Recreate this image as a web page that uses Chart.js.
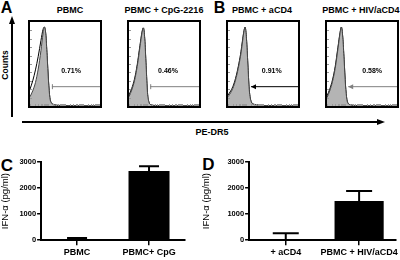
<!DOCTYPE html>
<html>
<head>
<meta charset="utf-8">
<script src="https://cdn.jsdelivr.net/npm/chart.js@4.4.1/dist/chart.umd.min.js"></script>
<style>
  body { margin: 0; background: #fff; }
  #figura { position: relative; width: 400px; height: 260px; overflow: hidden; font-family: "Liberation Sans", Arial, sans-serif; color: #000; }
  .caja { position: absolute; border: 2px solid #000; box-sizing: border-box; }
  .caja canvas { display: block; }
  .texto { position: absolute; transform: translate(-50%, -50%); white-space: nowrap; line-height: 1; font-weight: bold; }
  .grafico { position: absolute; display: block; }
</style>
</head>
<body>
<div id="figura">
  <svg width="400" height="260" style="position:absolute;left:0;top:0">
    <line x1="12" y1="117" x2="12" y2="23" stroke="#000" stroke-width="2"/>
    <polygon points="12,16 9,24 15,24" fill="#000"/>
    <line x1="22" y1="122" x2="378" y2="122" stroke="#000" stroke-width="2"/>
    <polygon points="385,122 377,119 377,125" fill="#000"/>
  </svg>

  <div class="texto" style="left:6.5px;top:8px;font-size:16px">A</div>
  <div class="texto" style="left:219.5px;top:8px;font-size:16px">B</div>
  <div class="texto" style="left:7px;top:165px;font-size:17px">C</div>
  <div class="texto" style="left:208.5px;top:164px;font-size:17px">D</div>

  <div class="texto" style="left:70px;top:10px;font-size:9px">PBMC</div>
  <div class="texto" style="left:164px;top:10px;font-size:9px">PBMC + CpG-2216</div>
  <div class="texto" style="left:262px;top:10px;font-size:9px">PBMC + aCD4</div>
  <div class="texto" style="left:361px;top:10px;font-size:9px">PBMC + HIV/aCD4</div>

  <div class="texto" style="left:5px;top:65px;font-size:8.5px;transform:translate(-50%,-50%) rotate(-90deg)">Counts</div>
  <div class="texto" style="left:212px;top:132px;font-size:9px">PE-DR5</div>

  <div class="caja" style="left:28px;top:20px;width:74px;height:88px"><canvas id="h1" width="70" height="84"></canvas></div>
  <div class="caja" style="left:127px;top:20px;width:74px;height:88px"><canvas id="h2" width="70" height="84"></canvas></div>
  <div class="caja" style="left:226px;top:20px;width:74px;height:88px"><canvas id="h3" width="70" height="84"></canvas></div>
  <div class="caja" style="left:325px;top:20px;width:74px;height:88px"><canvas id="h4" width="70" height="84"></canvas></div>

  <canvas id="graficoC" class="grafico" width="188" height="112" style="left:0;top:148px"></canvas>
  <canvas id="graficoD" class="grafico" width="202" height="112" style="left:198px;top:148px"></canvas>
</div>

<script>
// Canales del histograma (eje PE-DR5, 0-1023)
const histX = [0, 40, 80, 120, 160, 190, 210, 230, 250, 270, 290, 310, 340, 380, 450, 560, 700, 1023];

// Conteos (% del máximo de la caja): relleno gris y contorno negro
const grisPBMC   = [11, 18, 28, 44, 66, 86, 94, 86, 60, 30, 10, 4, 2, 1, 0.6, 0.4, 0.2, 0];
const lineaPBMC  = [20, 30, 43, 59, 78, 91, 94, 86, 60, 30, 10, 4, 2, 1, 0.6, 0.4, 0.2, 0];
const grisCpG    = [11, 19, 30, 47, 70, 87, 93, 80, 48, 16, 5, 2, 1, 0.6, 0.4, 0.2, 0.1, 0];
const lineaCpG   = [13, 21, 32, 49, 72, 88, 93, 80, 48, 16, 5, 2, 1, 0.6, 0.4, 0.2, 0.1, 0];
const grisCD4    = [11, 16, 23, 34, 49, 63, 75, 87, 94, 80, 50, 20, 5, 2, 1, 0.5, 0.2, 0];
const lineaCD4   = [13, 18, 25, 36, 51, 65, 77, 88, 94, 80, 50, 20, 5, 2, 1, 0.5, 0.2, 0];
const grisHIV    = [10, 18, 29, 45, 68, 86, 94, 82, 55, 25, 8, 3, 1.5, 0.8, 0.5, 0.3, 0.1, 0];
const lineaHIV   = [12, 20, 31, 47, 70, 87, 94, 82, 55, 25, 8, 3, 1.5, 0.8, 0.5, 0.3, 0.1, 0];

// Compuertas (inicio en canal) y porcentajes
const compuertaInicio = [320, 310, 336, 310];
const porcentajes = ['0.71%', '0.46%', '0.91%', '0.58%'];

// Datos de IFN-α (pg/ml)
const categoriasC = ['PBMC', 'PBMC+ CpG'];
const valoresC = [30, 2650];
const erroresC = [50, 190];
const categoriasD = ['+ aCD4', 'PBMC + HIV/aCD4'];
const valoresD = [15, 1500];
const erroresD = [255, 385];
const ticksIFN = [0, 1000, 2000, 3000];

const FUENTE = '"Liberation Sans", Arial, sans-serif';
Chart.defaults.font.family = FUENTE;
Chart.defaults.color = '#000';

// Plugin: texto de porcentaje, punta de compuerta y marcas internas
const pluginHistograma = {
    id: 'histo',
    afterDatasetsDraw(chart, args, opts) {
        const ctx = chart.ctx;
        const sx = chart.scales.x, sy = chart.scales.y;
        ctx.save();
        // marcas en el borde izquierdo
        ctx.strokeStyle = '#999';
        ctx.lineWidth = 1;
        for (let v = 10; v < 100; v += 10) {
            let py = Math.round(sy.getPixelForValue(v)) + 0.5;
            ctx.beginPath(); ctx.moveTo(0, py); ctx.lineTo(2, py); ctx.stroke();
        }
        // marcas logarítmicas en el borde inferior
        for (let d = 0; d < 4; d++) {
            for (let k = 1; k <= 9; k++) {
                let c = 256 * (d + Math.log10(k));
                let px = Math.round(sx.getPixelForValue(c)) + 0.5;
                ctx.beginPath(); ctx.moveTo(px, chart.height); ctx.lineTo(px, chart.height - 2); ctx.stroke();
            }
        }
        // punta de la compuerta
        const gx = sx.getPixelForValue(opts.inicio), gy = sy.getPixelForValue(23);
        ctx.strokeStyle = opts.color;
        ctx.fillStyle = opts.color;
        if (opts.flecha) {
            ctx.beginPath(); ctx.moveTo(gx, gy); ctx.lineTo(gx + 5, gy - 2.5); ctx.lineTo(gx + 5, gy + 2.5); ctx.closePath(); ctx.fill();
        } else {
            ctx.beginPath(); ctx.moveTo(gx + 0.5, gy - 2.5); ctx.lineTo(gx + 0.5, gy + 2.5); ctx.stroke();
        }
        // porcentaje
        ctx.fillStyle = '#000';
        ctx.font = 'bold 7px ' + FUENTE;
        ctx.textAlign = 'center';
        ctx.textBaseline = 'middle';
        ctx.fillText(opts.texto, sx.getPixelForValue(opts.textoX), sy.getPixelForValue(41));
        ctx.restore();
    }
};

// Función para crear un histograma de citometría
function crearHistograma(id, gris, linea, i, textoX, colorCompuerta, flecha) {
    new Chart(document.getElementById(id), {
        type: 'line',
        data: {
            datasets: [
                {
                    data: histX.map((x, j) => ({ x: x, y: gris[j] })),
                    fill: 'origin',
                    backgroundColor: '#b4b4b4',
                    borderColor: '#444',
                    borderWidth: 1,
                    pointRadius: 0,
                    cubicInterpolationMode: 'monotone'
                },
                {
                    data: histX.map((x, j) => ({ x: x, y: linea[j] })),
                    fill: false,
                    borderColor: '#000',
                    borderWidth: 1,
                    pointRadius: 0,
                    cubicInterpolationMode: 'monotone'
                },
                {
                    data: [{ x: compuertaInicio[i], y: 23 }, { x: 1023, y: 23 }],
                    fill: false,
                    borderColor: colorCompuerta,
                    borderWidth: 1,
                    pointRadius: 0
                }
            ]
        },
        options: {
            responsive: false,
            animation: false,
            layout: { padding: 0 },
            plugins: {
                legend: { display: false },
                tooltip: { enabled: false },
                histo: { inicio: compuertaInicio[i], texto: porcentajes[i], textoX: textoX, color: colorCompuerta, flecha: flecha }
            },
            scales: {
                x: { type: 'linear', min: 0, max: 1023, display: false },
                y: { min: 0, max: 100, display: false }
            }
        },
        plugins: [pluginHistograma]
    });
}

// Plugin: barras de error (solo hacia arriba)
const pluginErrores = {
    id: 'errores',
    afterDatasetsDraw(chart, args, opts) {
        const meta = chart.getDatasetMeta(0);
        const sy = chart.scales.y;
        const ctx = chart.ctx;
        ctx.save();
        ctx.strokeStyle = '#000';
        ctx.lineWidth = 2;
        meta.data.forEach((barra, i) => {
            let tope = sy.getPixelForValue(chart.data.datasets[0].data[i] + opts.errores[i]);
            ctx.beginPath();
            ctx.moveTo(barra.x, barra.y);
            ctx.lineTo(barra.x, tope);
            ctx.moveTo(barra.x - opts.tapa / 2, tope);
            ctx.lineTo(barra.x + opts.tapa / 2, tope);
            ctx.stroke();
        });
        ctx.restore();
    }
};

// Función para crear el gráfico de barras de IFN-α
function crearBarras(id, categorias, valores, errores, cfg) {
    new Chart(document.getElementById(id), {
        type: 'bar',
        data: {
            labels: categorias,
            datasets: [{
                data: valores,
                backgroundColor: '#000',
                barPercentage: cfg.barra,
                categoryPercentage: 1
            }]
        },
        options: {
            responsive: false,
            animation: false,
            layout: { padding: { left: cfg.izq, top: 14, right: cfg.der, bottom: 0 } },
            plugins: {
                legend: { display: false },
                tooltip: { enabled: false },
                errores: { errores: errores, tapa: cfg.tapa }
            },
            scales: {
                x: {
                    grid: { offset: false, drawOnChartArea: false, color: '#000', lineWidth: 1.5, tickLength: 5 },
                    border: { color: '#000', width: 2 },
                    ticks: { color: '#000', font: { size: 9, weight: 'bold' }, padding: 2, maxRotation: 0, autoSkip: false }
                },
                y: {
                    min: 0,
                    max: 3000,
                    afterBuildTicks: s => { s.ticks = ticksIFN.map(v => ({ value: v })); },
                    grid: { drawOnChartArea: false, color: '#000', lineWidth: 1.5, tickLength: 4 },
                    border: { color: '#000', width: 2 },
                    ticks: { color: '#000', font: { size: 7.5, weight: 'bold' }, padding: 1, callback: v => String(v) },
                    title: {
                        display: true,
                        text: 'IFN-α (pg/ml)',
                        color: '#000',
                        font: { size: 9.5 },
                        padding: { top: 0, bottom: cfg.titulo }
                    }
                }
            }
        },
        plugins: [pluginErrores]
    });
}

crearHistograma('h1', grisPBMC, lineaPBMC, 0, 600, '#808080', false);
crearHistograma('h2', grisCpG, lineaCpG, 1, 570, '#808080', false);
crearHistograma('h3', grisCD4, lineaCD4, 2, 640, '#000', true);
crearHistograma('h4', grisHIV, lineaHIV, 3, 660, '#808080', true);

crearBarras('graficoC', categoriasC, valoresC, erroresC, { barra: 0.57, tapa: 20, izq: 0, der: 3, titulo: 7 });
crearBarras('graficoD', categoriasD, valoresD, erroresD, { barra: 0.67, tapa: 26, izq: 3, der: 1, titulo: 14 });
</script>
</body>
</html>
